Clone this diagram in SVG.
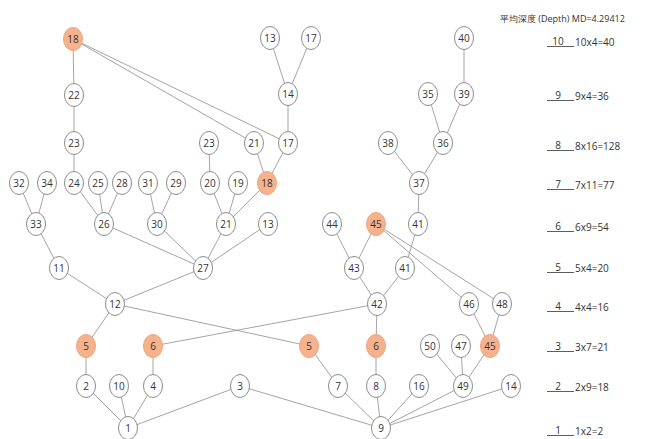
<svg xmlns="http://www.w3.org/2000/svg" width="647" height="439" viewBox="0 0 647 439">
<style>
.n ellipse{fill:#fff;stroke:#8c8c8c;stroke-width:1}
.h ellipse{fill:#f5b28c;stroke:#f0a47c;stroke-width:1}
.n text,.h text{font-family:"Open Sans","Noto Sans",sans-serif;font-size:10px;fill:#333;text-anchor:middle}
#edges line{stroke:#9a9a9a;stroke-width:0.9}
.lbl{font-family:"Open Sans","Noto Sans",sans-serif;font-size:10px;fill:#333}
.ul{stroke:#333;stroke-width:0.8}
</style>
<rect width="647" height="439" fill="#fff"/>
<g id="edges">
<line x1="73" y1="39" x2="74" y2="95"/>
<line x1="74" y1="95" x2="74" y2="143"/>
<line x1="74" y1="143" x2="74" y2="183"/>
<line x1="73" y1="39" x2="254" y2="143"/>
<line x1="73" y1="39" x2="288" y2="143"/>
<line x1="270" y1="38" x2="288" y2="94"/>
<line x1="311" y1="38" x2="288" y2="94"/>
<line x1="288" y1="94" x2="288" y2="143"/>
<line x1="209" y1="143" x2="210" y2="183"/>
<line x1="254" y1="143" x2="267" y2="183"/>
<line x1="288" y1="143" x2="267" y2="183"/>
<line x1="19" y1="183" x2="36" y2="224"/>
<line x1="47" y1="183" x2="36" y2="224"/>
<line x1="74" y1="183" x2="104" y2="224"/>
<line x1="98" y1="183" x2="104" y2="224"/>
<line x1="122" y1="183" x2="104" y2="224"/>
<line x1="148" y1="183" x2="157" y2="224"/>
<line x1="176" y1="183" x2="157" y2="224"/>
<line x1="210" y1="183" x2="226" y2="224"/>
<line x1="238" y1="183" x2="226" y2="224"/>
<line x1="267" y1="183" x2="226" y2="224"/>
<line x1="36" y1="224" x2="59" y2="268"/>
<line x1="104" y1="224" x2="203" y2="268"/>
<line x1="157" y1="224" x2="203" y2="268"/>
<line x1="226" y1="224" x2="203" y2="268"/>
<line x1="268" y1="224" x2="203" y2="268"/>
<line x1="59" y1="268" x2="115" y2="304"/>
<line x1="203" y1="268" x2="115" y2="304"/>
<line x1="115" y1="304" x2="86" y2="346"/>
<line x1="115" y1="304" x2="309" y2="346"/>
<line x1="153" y1="346" x2="377" y2="304"/>
<line x1="86" y1="346" x2="86" y2="386"/>
<line x1="153" y1="346" x2="153" y2="386"/>
<line x1="86" y1="386" x2="128" y2="428"/>
<line x1="119" y1="386" x2="128" y2="428"/>
<line x1="153" y1="386" x2="128" y2="428"/>
<line x1="240" y1="386" x2="128" y2="428"/>
<line x1="240" y1="386" x2="381" y2="428"/>
<line x1="309" y1="346" x2="338" y2="386"/>
<line x1="338" y1="386" x2="381" y2="428"/>
<line x1="376" y1="346" x2="376" y2="386"/>
<line x1="376" y1="386" x2="381" y2="428"/>
<line x1="419" y1="386" x2="381" y2="428"/>
<line x1="463" y1="386" x2="381" y2="428"/>
<line x1="511" y1="386" x2="381" y2="428"/>
<line x1="430" y1="346" x2="463" y2="386"/>
<line x1="461" y1="346" x2="463" y2="386"/>
<line x1="490" y1="346" x2="463" y2="386"/>
<line x1="469" y1="304" x2="490" y2="346"/>
<line x1="502" y1="304" x2="490" y2="346"/>
<line x1="376" y1="224" x2="469" y2="304"/>
<line x1="376" y1="224" x2="502" y2="304"/>
<line x1="332" y1="224" x2="354" y2="268"/>
<line x1="376" y1="224" x2="354" y2="268"/>
<line x1="354" y1="268" x2="377" y2="304"/>
<line x1="405" y1="268" x2="377" y2="304"/>
<line x1="418" y1="224" x2="405" y2="268"/>
<line x1="377" y1="304" x2="376" y2="346"/>
<line x1="419" y1="183" x2="418" y2="224"/>
<line x1="388" y1="143" x2="419" y2="183"/>
<line x1="443" y1="143" x2="419" y2="183"/>
<line x1="428" y1="94" x2="443" y2="143"/>
<line x1="464" y1="94" x2="443" y2="143"/>
<line x1="464" y1="38" x2="464" y2="94"/>
</g>
<g id="n18a" class="h"><ellipse cx="73" cy="39" rx="9.5" ry="11.5"/><text x="73" y="42.5">18</text></g>
<g id="n13a" class="n"><ellipse cx="270" cy="38" rx="9.5" ry="11.5"/><text x="270" y="41.5">13</text></g>
<g id="n17a" class="n"><ellipse cx="311" cy="38" rx="9.5" ry="11.5"/><text x="311" y="41.5">17</text></g>
<g id="n40" class="n"><ellipse cx="464" cy="38" rx="9.5" ry="11.5"/><text x="464" y="41.5">40</text></g>
<g id="n22" class="n"><ellipse cx="74" cy="95" rx="9.5" ry="11.5"/><text x="74" y="98.5">22</text></g>
<g id="n14a" class="n"><ellipse cx="288" cy="94" rx="9.5" ry="11.5"/><text x="288" y="97.5">14</text></g>
<g id="n35" class="n"><ellipse cx="428" cy="94" rx="9.5" ry="11.5"/><text x="428" y="97.5">35</text></g>
<g id="n39" class="n"><ellipse cx="464" cy="94" rx="9.5" ry="11.5"/><text x="464" y="97.5">39</text></g>
<g id="n23a" class="n"><ellipse cx="74" cy="143" rx="9.5" ry="11.5"/><text x="74" y="146.5">23</text></g>
<g id="n23b" class="n"><ellipse cx="209" cy="143" rx="9.5" ry="11.5"/><text x="209" y="146.5">23</text></g>
<g id="n21a" class="n"><ellipse cx="254" cy="143" rx="9.5" ry="11.5"/><text x="254" y="146.5">21</text></g>
<g id="n17b" class="n"><ellipse cx="288" cy="143" rx="9.5" ry="11.5"/><text x="288" y="146.5">17</text></g>
<g id="n38" class="n"><ellipse cx="388" cy="143" rx="9.5" ry="11.5"/><text x="388" y="146.5">38</text></g>
<g id="n36" class="n"><ellipse cx="443" cy="143" rx="9.5" ry="11.5"/><text x="443" y="146.5">36</text></g>
<g id="n32" class="n"><ellipse cx="19" cy="183" rx="9.5" ry="11.5"/><text x="19" y="186.5">32</text></g>
<g id="n34" class="n"><ellipse cx="47" cy="183" rx="9.5" ry="11.5"/><text x="47" y="186.5">34</text></g>
<g id="n24" class="n"><ellipse cx="74" cy="183" rx="9.5" ry="11.5"/><text x="74" y="186.5">24</text></g>
<g id="n25" class="n"><ellipse cx="98" cy="183" rx="9.5" ry="11.5"/><text x="98" y="186.5">25</text></g>
<g id="n28" class="n"><ellipse cx="122" cy="183" rx="9.5" ry="11.5"/><text x="122" y="186.5">28</text></g>
<g id="n31" class="n"><ellipse cx="148" cy="183" rx="9.5" ry="11.5"/><text x="148" y="186.5">31</text></g>
<g id="n29" class="n"><ellipse cx="176" cy="183" rx="9.5" ry="11.5"/><text x="176" y="186.5">29</text></g>
<g id="n20" class="n"><ellipse cx="210" cy="183" rx="9.5" ry="11.5"/><text x="210" y="186.5">20</text></g>
<g id="n19" class="n"><ellipse cx="238" cy="183" rx="9.5" ry="11.5"/><text x="238" y="186.5">19</text></g>
<g id="n18b" class="h"><ellipse cx="267" cy="183" rx="9.5" ry="11.5"/><text x="267" y="186.5">18</text></g>
<g id="n37" class="n"><ellipse cx="419" cy="183" rx="9.5" ry="11.5"/><text x="419" y="186.5">37</text></g>
<g id="n33" class="n"><ellipse cx="36" cy="224" rx="9.5" ry="11.5"/><text x="36" y="227.5">33</text></g>
<g id="n26" class="n"><ellipse cx="104" cy="224" rx="9.5" ry="11.5"/><text x="104" y="227.5">26</text></g>
<g id="n30" class="n"><ellipse cx="157" cy="224" rx="9.5" ry="11.5"/><text x="157" y="227.5">30</text></g>
<g id="n21b" class="n"><ellipse cx="226" cy="224" rx="9.5" ry="11.5"/><text x="226" y="227.5">21</text></g>
<g id="n13b" class="n"><ellipse cx="268" cy="224" rx="9.5" ry="11.5"/><text x="268" y="227.5">13</text></g>
<g id="n44" class="n"><ellipse cx="332" cy="224" rx="9.5" ry="11.5"/><text x="332" y="227.5">44</text></g>
<g id="n45a" class="h"><ellipse cx="376" cy="224" rx="9.5" ry="11.5"/><text x="376" y="227.5">45</text></g>
<g id="n41a" class="n"><ellipse cx="418" cy="224" rx="9.5" ry="11.5"/><text x="418" y="227.5">41</text></g>
<g id="n11" class="n"><ellipse cx="59" cy="268" rx="9.5" ry="11.5"/><text x="59" y="271.5">11</text></g>
<g id="n27" class="n"><ellipse cx="203" cy="268" rx="9.5" ry="11.5"/><text x="203" y="271.5">27</text></g>
<g id="n43" class="n"><ellipse cx="354" cy="268" rx="9.5" ry="11.5"/><text x="354" y="271.5">43</text></g>
<g id="n41b" class="n"><ellipse cx="405" cy="268" rx="9.5" ry="11.5"/><text x="405" y="271.5">41</text></g>
<g id="n12" class="n"><ellipse cx="115" cy="304" rx="9.5" ry="11.5"/><text x="115" y="307.5">12</text></g>
<g id="n42" class="n"><ellipse cx="377" cy="304" rx="9.5" ry="11.5"/><text x="377" y="307.5">42</text></g>
<g id="n46" class="n"><ellipse cx="469" cy="304" rx="9.5" ry="11.5"/><text x="469" y="307.5">46</text></g>
<g id="n48" class="n"><ellipse cx="502" cy="304" rx="9.5" ry="11.5"/><text x="502" y="307.5">48</text></g>
<g id="n5a" class="h"><ellipse cx="86" cy="346" rx="9.5" ry="11.5"/><text x="86" y="349.5">5</text></g>
<g id="n6a" class="h"><ellipse cx="153" cy="346" rx="9.5" ry="11.5"/><text x="153" y="349.5">6</text></g>
<g id="n5b" class="h"><ellipse cx="309" cy="346" rx="9.5" ry="11.5"/><text x="309" y="349.5">5</text></g>
<g id="n6b" class="h"><ellipse cx="376" cy="346" rx="9.5" ry="11.5"/><text x="376" y="349.5">6</text></g>
<g id="n50" class="n"><ellipse cx="430" cy="346" rx="9.5" ry="11.5"/><text x="430" y="349.5">50</text></g>
<g id="n47" class="n"><ellipse cx="461" cy="346" rx="9.5" ry="11.5"/><text x="461" y="349.5">47</text></g>
<g id="n45b" class="h"><ellipse cx="490" cy="346" rx="9.5" ry="11.5"/><text x="490" y="349.5">45</text></g>
<g id="n2" class="n"><ellipse cx="86" cy="386" rx="9.5" ry="11.5"/><text x="86" y="389.5">2</text></g>
<g id="n10" class="n"><ellipse cx="119" cy="386" rx="9.5" ry="11.5"/><text x="119" y="389.5">10</text></g>
<g id="n4" class="n"><ellipse cx="153" cy="386" rx="9.5" ry="11.5"/><text x="153" y="389.5">4</text></g>
<g id="n3" class="n"><ellipse cx="240" cy="386" rx="9.5" ry="11.5"/><text x="240" y="389.5">3</text></g>
<g id="n7" class="n"><ellipse cx="338" cy="386" rx="9.5" ry="11.5"/><text x="338" y="389.5">7</text></g>
<g id="n8" class="n"><ellipse cx="376" cy="386" rx="9.5" ry="11.5"/><text x="376" y="389.5">8</text></g>
<g id="n16" class="n"><ellipse cx="419" cy="386" rx="9.5" ry="11.5"/><text x="419" y="389.5">16</text></g>
<g id="n49" class="n"><ellipse cx="463" cy="386" rx="9.5" ry="11.5"/><text x="463" y="389.5">49</text></g>
<g id="n14b" class="n"><ellipse cx="511" cy="386" rx="9.5" ry="11.5"/><text x="511" y="389.5">14</text></g>
<g id="n1" class="n"><ellipse cx="128" cy="428" rx="9.5" ry="11.5"/><text x="128" y="431.5">1</text></g>
<g id="n9" class="n"><ellipse cx="381" cy="428" rx="9.5" ry="11.5"/><text x="381" y="431.5">9</text></g>
<g id="legend">
<text class="lbl" x="500" y="22" style="font-size:9px" font-family="'Open Sans','Noto Sans CJK SC',sans-serif">平均深度 (Depth) MD=4.29412</text>
<g><line class="ul" x1="547" y1="46.5" x2="574" y2="46.5"/><text class="lbl" x="558" y="45" text-anchor="middle">10</text><text class="lbl" x="575" y="46">10x4=40</text></g>
<g><line class="ul" x1="547" y1="100.5" x2="574" y2="100.5"/><text class="lbl" x="558" y="99" text-anchor="middle">9</text><text class="lbl" x="575" y="100">9x4=36</text></g>
<g><line class="ul" x1="547" y1="150.5" x2="574" y2="150.5"/><text class="lbl" x="558" y="149" text-anchor="middle">8</text><text class="lbl" x="575" y="150">8x16=128</text></g>
<g><line class="ul" x1="547" y1="189.5" x2="574" y2="189.5"/><text class="lbl" x="558" y="188" text-anchor="middle">7</text><text class="lbl" x="575" y="189">7x11=77</text></g>
<g><line class="ul" x1="547" y1="231.5" x2="574" y2="231.5"/><text class="lbl" x="558" y="230" text-anchor="middle">6</text><text class="lbl" x="575" y="231">6x9=54</text></g>
<g><line class="ul" x1="547" y1="272.5" x2="574" y2="272.5"/><text class="lbl" x="558" y="271" text-anchor="middle">5</text><text class="lbl" x="575" y="272">5x4=20</text></g>
<g><line class="ul" x1="547" y1="311.5" x2="574" y2="311.5"/><text class="lbl" x="558" y="310" text-anchor="middle">4</text><text class="lbl" x="575" y="311">4x4=16</text></g>
<g><line class="ul" x1="547" y1="351.5" x2="574" y2="351.5"/><text class="lbl" x="558" y="350" text-anchor="middle">3</text><text class="lbl" x="575" y="351">3x7=21</text></g>
<g><line class="ul" x1="547" y1="391.5" x2="574" y2="391.5"/><text class="lbl" x="558" y="390" text-anchor="middle">2</text><text class="lbl" x="575" y="391">2x9=18</text></g>
<g><line class="ul" x1="547" y1="435.5" x2="574" y2="435.5"/><text class="lbl" x="558" y="434" text-anchor="middle">1</text><text class="lbl" x="575" y="435">1x2=2</text></g>
</g>
</svg>
